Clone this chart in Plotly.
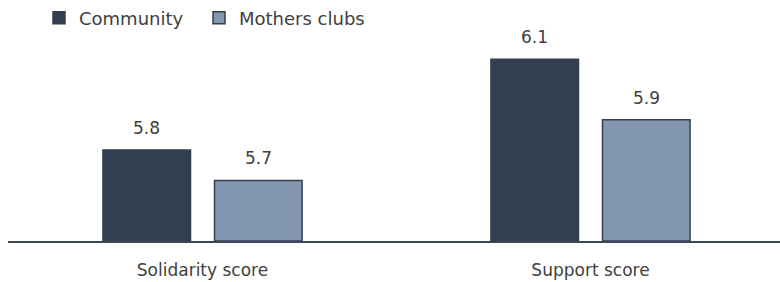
import plotly.graph_objects as go

categories = ["Solidarity score", "Support score"]
community = [5.8, 6.1]
mothers_clubs = [5.7, 5.9]
series_names = ["Community", "Mothers clubs"]
value_labels_comm = ["5.8", "6.1"]
value_labels_moth = ["5.7", "5.9"]
axis_base = 5.5

FONT = "DejaVu Sans"
TXT = "#404040"
DARK = "#333f50"
LIGHT = "#8497b0"

fig = go.Figure()
fig.add_trace(go.Bar(x=categories, y=[v - axis_base for v in community], base=axis_base,
                     name=series_names[0], legend="legend",
                     marker=dict(color=DARK, line=dict(color=DARK, width=1.5))))
fig.add_trace(go.Bar(x=categories, y=[v - axis_base for v in mothers_clubs], base=axis_base,
                     name=series_names[1], legend="legend2",
                     marker=dict(color=LIGHT, line=dict(color=DARK, width=1.5))))

slot_px = 55.75
for cat, v, t in zip(categories, community, value_labels_comm):
    fig.add_annotation(x=cat, y=v, text=t, showarrow=False, yanchor="bottom",
                       xshift=-slot_px, yshift=10, font=dict(family=FONT, size=17, color=TXT))
for cat, v, t in zip(categories, mothers_clubs, value_labels_moth):
    fig.add_annotation(x=cat, y=v, text=t, showarrow=False, yanchor="bottom",
                       xshift=slot_px, yshift=10, font=dict(family=FONT, size=17, color=TXT))

leg_common = dict(orientation="h", xref="container", yref="container",
                  y=1 - 18 / 282, xanchor="left", yanchor="middle",
                  font=dict(family=FONT, size=18, color=TXT),
                  bgcolor="rgba(0,0,0,0)")

fig.update_layout(
    width=780, height=282,
    margin=dict(l=8, r=0, t=30, b=41, autoexpand=False),
    paper_bgcolor="white", plot_bgcolor="white",
    barmode="group", bargap=0.425, bargroupgap=0.215,
    font=dict(family=FONT, size=16, color=TXT),
    showlegend=True,
    legend=dict(x=39 / 780, **leg_common),
    legend2=dict(x=199 / 780, **leg_common),
    xaxis=dict(range=[-0.5013, 1.4884], showline=True, linecolor="#3b4556", linewidth=2,
               showgrid=False, ticks="", ticklabelstandoff=13,
               tickfont=dict(family=FONT, size=17, color=TXT)),
    yaxis=dict(range=[axis_base, axis_base + 211 / 303], visible=False, showgrid=False),
)

fig.write_html("out.html", config={"displayModeBar": False},
               post_script="document.body.style.margin='0';document.body.style.overflow='hidden';")
